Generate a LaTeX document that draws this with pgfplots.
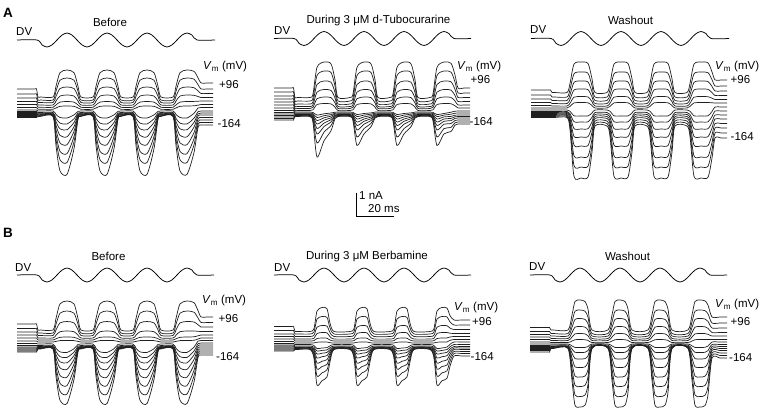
\documentclass[border=0pt]{standalone}
\usepackage{fontspec}
\setmainfont{Liberation Sans}
\usepackage{pgfplots}
\usepackage{pgfplotstable}
\pgfplotsset{compat=1.18}

% ---------- A: Before ----------
\pgfplotstableread{
t y1 y2 y3 y4 y5 y6 y7 y8 y9 y10 y11 y12 y13 y14
17 89 94 98 101.5 104.5 107.5 110 111.5 112.5 113.5 114.5 115.5 116.5 117.5
34.5 89 94 98 101.5 104.5 107.5 110 111.5 112.5 113.5 114.5 115.5 116.5 117.5
36.5 89 94 98 101.5 104.5 107.5 110 111.5 112.5 113.5 114.5 115.5 116.5 117.5
38 97 100 102.5 105 107.3 109.3 111 112.5 113.3 114 114.6 115.2 115.8 116.4
40.5 97 100 102.5 105 107.3 109.3 111 112.5 113.3 114 114.6 115.2 115.8 116.4
53 97 100 102.5 105 107.3 109.3 111 112.5 113.3 114 114.6 115.2 115.8 116.4
56 86.2 91.2 96.3 101 105 108 114.5 118.3 121.7 125.5 129.8 134.6 139.4 145.7
60 72.7 80.2 88.5 96 102.1 106.3 117.5 123.2 128.8 135.4 142.9 151.3 159.7 170.9
67 70 78 87 95 101.5 106 118 123.9 129.8 136.8 144.7 153.6 162.5 174.4
74 72.7 80.2 88.5 96 102.1 106.3 114.9 118.8 122.5 126.7 131.3 136.5 141.8 148.6
78 86.2 91.2 96.3 101 105 108 111.4 113.1 114.1 115.2 116.1 117.1 118.2 119.3
81 97 100 102.5 105 107.3 109.3 111 112.5 113.3 114 114.6 115.2 115.8 116.4
93 97 100 102.5 105 107.3 109.3 111 112.5 113.3 114 114.6 115.2 115.8 116.4
96 86.2 91.2 96.3 101 105 108 114.5 118.3 121.7 125.5 129.8 134.6 139.4 145.7
100 72.7 80.2 88.5 96 102.1 106.3 117.5 123.2 128.8 135.4 142.9 151.3 159.7 170.9
107 70 78 87 95 101.5 106 118 123.9 129.8 136.8 144.7 153.6 162.5 174.4
114 72.7 80.2 88.5 96 102.1 106.3 114.9 118.8 122.5 126.7 131.3 136.5 141.8 148.6
118 86.2 91.2 96.3 101 105 108 111.4 113.1 114.1 115.2 116.1 117.1 118.2 119.3
121 97 100 102.5 105 107.3 109.3 111 112.5 113.3 114 114.6 115.2 115.8 116.4
133 97 100 102.5 105 107.3 109.3 111 112.5 113.3 114 114.6 115.2 115.8 116.4
136 86.2 91.2 96.3 101 105 108 114.5 118.3 121.7 125.5 129.8 134.6 139.4 145.7
140 72.7 80.2 88.5 96 102.1 106.3 117.5 123.2 128.8 135.4 142.9 151.3 159.7 170.9
147 70 78 87 95 101.5 106 118 123.9 129.8 136.8 144.7 153.6 162.5 174.4
154 72.7 80.2 88.5 96 102.1 106.3 114.9 118.8 122.5 126.7 131.3 136.5 141.8 148.6
158 86.2 91.2 96.3 101 105 108 111.4 113.1 114.1 115.2 116.1 117.1 118.2 119.3
161 97 100 102.5 105 107.3 109.3 111 112.5 113.3 114 114.6 115.2 115.8 116.4
173 97 100 102.5 105 107.3 109.3 111 112.5 113.3 114 114.6 115.2 115.8 116.4
176 86.2 91.2 96.3 101 105 108 114.5 118.3 121.7 125.5 129.8 134.6 139.4 145.7
180 72.7 80.2 88.5 96 102.1 106.3 117.5 123.2 128.8 135.4 142.9 151.3 159.7 170.9
187 70 78 87 95 101.5 106 118 123.9 129.8 136.8 144.7 153.6 162.5 174.4
194 71.3 79.1 87.7 95.3 101.4 105.8 113.3 118.2 122.4 127.1 132.6 138.7 144.8 152.5
198 77.8 84.6 90.9 96.5 101.2 105.2 108 111.7 113.9 116.1 118.9 121.7 124.5 127.5
201 83 89 93.5 97.5 101 104.5 107.5 111 113 115 117.5 120 122.5 125
207 83 89 93.5 97.5 101 104.5 107.5 111 113 115 117.5 120 122.5 125
213 83 89 93.5 97.5 101 104.5 107.5 111 113 115 117.5 120 122.5 125
}\tAa

% ---------- A: During d-Tubocurarine ----------
\pgfplotstableread{
t y1 y2 y3 y4 y5 y6 y7 y8 y9 y10 y11 y12 y13 y14
274 88 92 96 99 102 105 108 110.5 112.5 114 115.5 117 118.5 120
291.5 88 92 96 99 102 105 108 110.5 112.5 114 115.5 117 118.5 120
293.5 88 92 96 99 102 105 108 110.5 112.5 114 115.5 117 118.5 120
295 97.5 101 104 106.5 108.5 110.5 112 113 113.8 114.5 115 115.5 116 116.5
297.5 97.5 101 104 106.5 108.5 110.5 112 113 113.8 114.5 115 115.5 116 116.5
310 97.5 101 104 106.5 108.5 110.5 112 113 113.8 114.5 115 115.5 116 116.5
313 94 98 101.7 104.8 107.4 109.8 112.5 113.7 114.8 115.9 117 118.3 120 122.6
317 67.3 75.5 84.5 92.1 98.7 104.5 115 117.5 120.5 124 128.5 134 143 157
324 62 71 81 89.5 97 103.5 113.8 115.7 117.8 120.2 123.1 126.6 132.2 140.8
331 63.8 72.5 82.2 90.4 97.6 103.9 113 114.6 116.1 117.8 119.7 122 125.5 130.7
335 79.8 86 92.5 98 102.8 107 112.2 113.2 114.1 115 115.7 116.4 117.4 118.5
338 97.5 101 104 106.5 108.5 110.5 112 113 113.8 114.5 115 115.5 116 116.5
350 97.5 101 104 106.5 108.5 110.5 112 113 113.8 114.5 115 115.5 116 116.5
353 94 98 101.7 104.8 107.4 109.8 112.4 113.5 114.6 115.6 116.6 117.7 119.2 120.9
357 67.3 75.5 84.5 92.1 98.7 104.5 114.5 116.5 119 122 125.5 130 137 145.5
364 62 71 81 89.5 97 103.5 113.5 115.1 116.9 119 121.3 124.2 128.6 133.9
371 63.8 72.5 82.2 90.4 97.6 103.9 112.9 114.2 115.6 117.1 118.7 120.6 123.4 126.7
375 79.8 86 92.5 98 102.8 107 112.1 113.2 114.1 114.9 115.5 116.2 117.1 118
378 97.5 101 104 106.5 108.5 110.5 112 113 113.8 114.5 115 115.5 116 116.5
390 97.5 101 104 106.5 108.5 110.5 112 113 113.8 114.5 115 115.5 116 116.5
393 94 98 101.7 104.8 107.4 109.8 112.4 113.5 114.6 115.6 116.6 117.7 119.2 120.9
397 67.3 75.5 84.5 92.1 98.7 104.5 114.5 116.5 119 122 125.5 130 137 145.5
404 62 71 81 89.5 97 103.5 113.5 115.1 116.9 119 121.3 124.2 128.6 133.9
411 63.8 72.5 82.2 90.4 97.6 103.9 112.9 114.2 115.6 117.1 118.7 120.6 123.4 126.7
415 79.8 86 92.5 98 102.8 107 112.1 113.2 114.1 114.9 115.5 116.2 117.1 118
418 97.5 101 104 106.5 108.5 110.5 112 113 113.8 114.5 115 115.5 116 116.5
430 97.5 101 104 106.5 108.5 110.5 112 113 113.8 114.5 115 115.5 116 116.5
433 94 98 101.7 104.8 107.4 109.8 112.4 113.5 114.6 115.6 116.6 117.7 119.2 120.9
437 67.3 75.5 84.5 92.1 98.7 104.5 114.5 116.5 119 122 125.5 130 137 145.5
444 62 71 81 89.5 97 103.5 113.5 115.1 116.9 119 121.3 124.2 128.6 133.9
451 63.3 72.1 81.8 90.1 97.4 103.7 112.2 114.2 116.4 118.4 120.6 123.5 127.3 131.5
455 75 82 89.3 95.5 101 105.8 111.2 113.2 115.2 116.8 118.4 120.5 122.8 125.1
458 88 93 97.5 101.5 105 108 111 113 115 116.5 118 120 122 124
464 88 93 97.5 101.5 105 108 111 113 115 116.5 118 120 122 124
470 88 93 97.5 101.5 105 108 111 113 115 116.5 118 120 122 124
}\tAb

% ---------- A: Washout ----------
\pgfplotstableread{
t y1 y2 y3 y4 y5 y6 y7 y8 y9 y10 y11 y12 y13 y14
531 90 95 99 102.5 105.5 108 110 111.5 112.5 113.5 114.5 115.5 116.5 117.5
548.5 90 95 99 102.5 105.5 108 110 111.5 112.5 113.5 114.5 115.5 116.5 117.5
550.5 90 95 99 102.5 105.5 108 110 111.5 112.5 113.5 114.5 115.5 116.5 117.5
552 92.5 97 100.5 103.5 106 108 110 111.5 112.5 113.5 114.5 115.5 116.5 117.5
554.5 92.5 97 100.5 103.5 106 108 110 111.5 112.5 113.5 114.5 115.5 116.5 117.5
567 92.5 97 100.5 103.5 106 108 110 111.5 112.5 113.5 114.5 115.5 116.5 117.5
570 83.4 89.5 94.7 99.2 103.2 106.4 111.2 113.6 115.8 118.2 120.8 123.8 126.6 129.6
574 64.1 73.8 82.4 90 97.2 102.9 115.8 121.7 128.6 136.4 145.2 155.9 165.7 176.4
581 62 72 81 89 96.5 102.5 116 122 129 137 146 157 167 178
588 63.5 73.3 82 89.7 97 102.8 115.9 121.8 128.7 136.6 145.5 156.3 166.1 177
592 78.8 85.8 91.7 97 101.7 105.5 113 117.3 121.8 126.8 132.3 139 145.3 152
595 92.5 97 100.5 103.5 106 108 110 112.5 114.5 116.5 118.5 121 123.5 126
607 92.5 97 100.5 103.5 106 108 110 112.5 114.5 116.5 118.5 121 123.5 126
610 83.4 89.5 94.7 99.2 103.2 106.4 111.2 114.4 117.4 120.6 124 128.2 132.2 136.4
614 64.1 73.8 82.4 90 97.2 102.9 115.8 121.7 128.6 136.4 145.2 155.9 165.7 176.4
621 62 72 81 89 96.5 102.5 116 122 129 137 146 157 167 178
628 63.5 73.3 82 89.7 97 102.8 115.9 121.8 128.7 136.6 145.5 156.3 166.1 177
632 78.8 85.8 91.7 97 101.7 105.5 113 117.3 121.8 126.8 132.3 139 145.3 152
635 92.5 97 100.5 103.5 106 108 110 112.5 114.5 116.5 118.5 121 123.5 126
647 92.5 97 100.5 103.5 106 108 110 112.5 114.5 116.5 118.5 121 123.5 126
650 83.4 89.5 94.7 99.2 103.2 106.4 111.2 114.4 117.4 120.6 124 128.2 132.2 136.4
654 64.1 73.8 82.4 90 97.2 102.9 115.8 121.7 128.6 136.4 145.2 155.9 165.7 176.4
661 62 72 81 89 96.5 102.5 116 122 129 137 146 157 167 178
668 63.5 73.3 82 89.7 97 102.8 115.9 121.8 128.7 136.6 145.5 156.3 166.1 177
672 78.8 85.8 91.7 97 101.7 105.5 113 117.3 121.8 126.8 132.3 139 145.3 152
675 92.5 97 100.5 103.5 106 108 110 112.5 114.5 116.5 118.5 121 123.5 126
687 92.5 97 100.5 103.5 106 108 110 112.5 114.5 116.5 118.5 121 123.5 126
690 83.4 89.5 94.7 99.2 103.2 106.4 111.2 114.4 117.4 120.6 124 128.2 132.2 136.4
694 64.1 73.8 82.4 90 97.2 102.9 115.8 121.7 128.6 136.4 145.2 155.9 165.7 176.4
701 62 72 81 89 96.5 102.5 116 122 129 137 146 157 167 178
708 62.9 72.7 81.5 89.3 96.7 102.5 115.8 121.8 128.7 136.6 145.6 156.4 166.3 177.2
712 71.9 79.7 86.5 92.6 98.2 102.8 111.5 116.5 122 128 134.8 142.5 150 158
715 80 86 91 95.5 99.5 103 107 111 115 119 123.5 128 133 138
721 80 86 91 95.5 99.5 103 107 111 115 119 123.5 128 133 138
727 80 86 91 95.5 99.5 103 107 111 115 119 123.5 128 133 138
}\tAc

% ---------- B: Before ----------
\pgfplotstableread{
t y1 y2 y3 y4 y5 y6 y7 y8 y9 y10 y11 y12 y13 y14
17 324 328.5 332 335 338 341 343.5 345.5 347 348 349 350 351 352
34.5 324 328.5 332 335 338 341 343.5 345.5 347 348 349 350 351 352
36.5 324 328.5 332 335 338 341 343.5 345.5 347 348 349 350 351 352
38 330 333 335.5 338 340 342 344 345.5 346.5 347 347.5 348 348.5 349
40.5 330 333 335.5 338 340 342 344 345.5 346.5 347 347.5 348 348.5 349
53 330 333 335.5 338 340 342 344 345.5 346.5 347 347.5 348 348.5 349
56 318.4 324.2 329.9 335.2 338.8 341.4 348.3 351.5 354.8 358.3 362.5 367 371.5 376.5
60 303.9 313.2 322.9 331.7 337.3 340.6 351.9 356.7 361.8 367.9 375.4 383.3 391.3 400.2
67 301 311 321.5 331 337 340.5 352.4 357.4 362.8 369.3 377.2 385.6 394 403.5
74 303.9 313.2 322.9 331.7 337.3 340.6 348.7 352.1 355.6 359.4 364 368.9 373.8 379.3
78 318.4 324.2 329.9 335.2 338.8 341.4 344.4 346.1 347.3 348.1 349 349.9 350.8 351.8
81 330 333 335.5 338 340 342 344 345.5 346.5 347 347.5 348 348.5 349
93 330 333 335.5 338 340 342 344 345.5 346.5 347 347.5 348 348.5 349
96 318.4 324.2 329.9 335.2 338.8 341.4 348.3 351.5 354.8 358.3 362.5 367 371.5 376.5
100 303.9 313.2 322.9 331.7 337.3 340.6 351.9 356.7 361.8 367.9 375.4 383.3 391.3 400.2
107 301 311 321.5 331 337 340.5 352.4 357.4 362.8 369.3 377.2 385.6 394 403.5
114 303.9 313.2 322.9 331.7 337.3 340.6 348.7 352.1 355.6 359.4 364 368.9 373.8 379.3
118 318.4 324.2 329.9 335.2 338.8 341.4 344.4 346.1 347.3 348.1 349 349.9 350.8 351.8
121 330 333 335.5 338 340 342 344 345.5 346.5 347 347.5 348 348.5 349
133 330 333 335.5 338 340 342 344 345.5 346.5 347 347.5 348 348.5 349
136 318.4 324.2 329.9 335.2 338.8 341.4 348.3 351.5 354.8 358.3 362.5 367 371.5 376.5
140 303.9 313.2 322.9 331.7 337.3 340.6 351.9 356.7 361.8 367.9 375.4 383.3 391.3 400.2
147 301 311 321.5 331 337 340.5 352.4 357.4 362.8 369.3 377.2 385.6 394 403.5
154 303.9 313.2 322.9 331.7 337.3 340.6 348.7 352.1 355.6 359.4 364 368.9 373.8 379.3
158 318.4 324.2 329.9 335.2 338.8 341.4 344.4 346.1 347.3 348.1 349 349.9 350.8 351.8
161 330 333 335.5 338 340 342 344 345.5 346.5 347 347.5 348 348.5 349
173 330 333 335.5 338 340 342 344 345.5 346.5 347 347.5 348 348.5 349
176 318.4 324.2 329.9 335.2 338.8 341.4 348.3 351.5 354.8 358.3 362.5 367 371.5 376.5
180 303.9 313.2 322.9 331.7 337.3 340.6 351.9 356.7 361.8 367.9 375.4 383.3 391.3 400.2
187 301 311 321.5 331 337 340.5 352.4 357.4 362.8 369.3 377.2 385.6 394 403.5
194 302.6 312.2 322 331 336.8 340.3 347.1 351 354.9 359.4 364.7 370.3 375.8 382
198 310.6 317.9 324.8 331.3 335.8 339 341.1 343.7 345.9 348.1 350.4 352.8 355.1 357.5
201 317 322.5 327 331.5 335 338 340.5 343 345 347 349 351 353 355
207 317 322.5 327 331.5 335 338 340.5 343 345 347 349 351 353 355
213 317 322.5 327 331.5 335 338 340.5 343 345 347 349 351 353 355
}\tBa

% ---------- B: During Berbamine ----------
\pgfplotstableread{
t y1 y2 y3 y4 y5 y6 y7 y8 y9 y10 y11 y12 y13 y14
274 326.5 330.5 334 336.5 339 341.5 343.5 345 346 347 348 349 350 351
291.5 326.5 330.5 334 336.5 339 341.5 343.5 345 346 347 348 349 350 351
293.5 326.5 330.5 334 336.5 339 341.5 343.5 345 346 347 348 349 350 351
295 331.5 334 336.5 339 341 343 344.5 346 347 347.5 348 348.5 349 349.5
297.5 331.5 334 336.5 339 341 343 344.5 346 347 347.5 348 348.5 349 349.5
310 331.5 334 336.5 339 341 343 344.5 346 347 347.5 348 348.5 349 349.5
314 328.6 331.9 335.2 338.2 340.6 342.9 345.5 347.3 348.8 350.1 351.8 353.6 355.8 358.4
317 311.1 319.1 327.2 333.5 338.5 342.2 348.5 351 354 358 363 369 376 385
322 307.5 316.5 325.5 332.5 338 342 348 350.4 353.2 356.7 361.2 366.5 372.8 380.7
327 308.7 317.4 326.1 332.8 338.2 342 347.6 349.9 352.4 355.6 359.6 364.3 369.8 376.8
330 323.1 327.9 332.7 336.7 340 342.7 345.9 347.8 349.5 351.2 353.3 355.7 358.5 361.9
334 331.5 334 336.5 339 341 343 344.5 346 347 347.5 348 348.5 349 349.5
350 331.5 334 336.5 339 341 343 344.5 346 347 347.5 348 348.5 349 349.5
354 328.6 331.9 335.2 338.2 340.6 342.9 345.5 347.3 348.8 350.1 351.8 353.6 355.8 358.4
357 311.1 319.1 327.2 333.5 338.5 342.2 348.5 351 354 358 363 369 376 385
362 307.5 316.5 325.5 332.5 338 342 348 350.4 353.2 356.7 361.2 366.5 372.8 380.7
367 308.7 317.4 326.1 332.8 338.2 342 347.6 349.9 352.4 355.6 359.6 364.3 369.8 376.8
370 323.1 327.9 332.7 336.7 340 342.7 345.9 347.8 349.5 351.2 353.3 355.7 358.5 361.9
374 331.5 334 336.5 339 341 343 344.5 346 347 347.5 348 348.5 349 349.5
390 331.5 334 336.5 339 341 343 344.5 346 347 347.5 348 348.5 349 349.5
394 328.6 331.9 335.2 338.2 340.6 342.9 345.5 347.3 348.8 350.1 351.8 353.6 355.8 358.4
397 311.1 319.1 327.2 333.5 338.5 342.2 348.5 351 354 358 363 369 376 385
402 307.5 316.5 325.5 332.5 338 342 348 350.4 353.2 356.7 361.2 366.5 372.8 380.7
407 308.7 317.4 326.1 332.8 338.2 342 347.6 349.9 352.4 355.6 359.6 364.3 369.8 376.8
410 323.1 327.9 332.7 336.7 340 342.7 345.9 347.8 349.5 351.2 353.3 355.7 358.5 361.9
414 331.5 334 336.5 339 341 343 344.5 346 347 347.5 348 348.5 349 349.5
430 331.5 334 336.5 339 341 343 344.5 346 347 347.5 348 348.5 349 349.5
434 328.6 331.9 335.2 338.2 340.6 342.9 345.5 347.3 348.8 350.1 351.8 353.6 355.8 358.4
437 311.1 319.1 327.2 333.5 338.5 342.2 348.5 351 354 358 363 369 376 385
442 307.5 316.5 325.5 332.5 338 342 348 350.4 353.2 356.7 361.2 366.5 372.8 380.7
447 308.1 316.9 325.7 332.5 337.9 341.9 347 349.5 352.3 355.7 359.9 365 370.8 378.3
450 315.6 322 328.1 333.2 337 340.4 344.3 346.8 349.1 351.5 354.2 357.6 361.4 366.2
454 320 325 329.5 333.5 336.5 339.5 342 344.5 346.5 348 349.5 351.5 353.5 356
462 320 325 329.5 333.5 336.5 339.5 342 344.5 346.5 348 349.5 351.5 353.5 356
470 320 325 329.5 333.5 336.5 339.5 342 344.5 346.5 348 349.5 351.5 353.5 356
}\tBb

% ---------- B: Washout ----------
\pgfplotstableread{
t y1 y2 y3 y4 y5 y6 y7 y8 y9 y10 y11 y12 y13 y14
530 327.5 331.5 334.5 337 339.5 342 344 345.5 346.5 347.5 348.5 349.5 350.5 352
547.5 327.5 331.5 334.5 337 339.5 342 344 345.5 346.5 347.5 348.5 349.5 350.5 352
549.5 327.5 331.5 334.5 337 339.5 342 344 345.5 346.5 347.5 348.5 349.5 350.5 352
551 330 333.5 336 338.5 340.5 342.5 344 345 346 346.5 347 347.5 348 348.5
553.5 330 333.5 336 338.5 340.5 342.5 344 345 346 346.5 347 347.5 348 348.5
568 330 333.5 336 338.5 340.5 342.5 344 345 346 346.5 347 347.5 348 348.5
572 315 321.8 327.3 332.5 337 341 345.9 349.1 353.2 358.1 363.5 369 374.7 380.7
575 301.5 311.2 319.4 327.1 333.9 339.7 347.4 352.3 358.6 366.9 376.1 385.3 395 405.2
580 300 310 318.5 326.5 333.5 339.5 347.5 352.5 359 367.5 377 386.5 396.5 407
585 301.5 311.2 319.4 327.1 333.9 339.7 347.4 352.3 358.6 366.9 376.1 385.3 395 405.2
588 309 317.1 323.8 330.1 335.6 340.4 346.6 350.6 355.8 362.3 369.5 376.8 384.4 392.4
592 330 333.5 336 338.5 340.5 342.5 344 345 346 346.5 347 347.5 348 348.5
608 330 333.5 336 338.5 340.5 342.5 344 345 346 346.5 347 347.5 348 348.5
612 315 321.8 327.3 332.5 337 341 345.9 349.1 353.2 358.1 363.5 369 374.7 380.7
615 301.5 311.2 319.4 327.1 333.9 339.7 347.4 352.3 358.6 366.9 376.1 385.3 395 405.2
620 300 310 318.5 326.5 333.5 339.5 347.5 352.5 359 367.5 377 386.5 396.5 407
625 301.5 311.2 319.4 327.1 333.9 339.7 347.4 352.3 358.6 366.9 376.1 385.3 395 405.2
628 309 317.1 323.8 330.1 335.6 340.4 346.6 350.6 355.8 362.3 369.5 376.8 384.4 392.4
632 330 333.5 336 338.5 340.5 342.5 344 345 346 346.5 347 347.5 348 348.5
648 330 333.5 336 338.5 340.5 342.5 344 345 346 346.5 347 347.5 348 348.5
652 315 321.8 327.3 332.5 337 341 345.9 349.1 353.2 358.1 363.5 369 374.7 380.7
655 301.5 311.2 319.4 327.1 333.9 339.7 347.4 352.3 358.6 366.9 376.1 385.3 395 405.2
660 300 310 318.5 326.5 333.5 339.5 347.5 352.5 359 367.5 377 386.5 396.5 407
665 301.5 311.2 319.4 327.1 333.9 339.7 347.4 352.3 358.6 366.9 376.1 385.3 395 405.2
668 309 317.1 323.8 330.1 335.6 340.4 346.6 350.6 355.8 362.3 369.5 376.8 384.4 392.4
672 330 333.5 336 338.5 340.5 342.5 344 345 346 346.5 347 347.5 348 348.5
688 330 333.5 336 338.5 340.5 342.5 344 345 346 346.5 347 347.5 348 348.5
692 315 321.8 327.3 332.5 337 341 345.9 349.1 353.2 358.1 363.5 369 374.7 380.7
695 301.5 311.2 319.4 327.1 333.9 339.7 347.4 352.3 358.6 366.9 376.1 385.3 395 405.2
700 300 310 318.5 326.5 333.5 339.5 347.5 352.5 359 367.5 377 386.5 396.5 407
705 300.9 310.7 319 326.8 333.6 339.5 347.3 352.3 358.6 366.9 376.2 385.5 395.3 405.5
708 305.1 313.9 321.4 328.3 334.3 339.5 346.1 350.5 355.9 362.8 370.4 378.1 386.3 394.8
712 317 323 328 332.5 336 339.5 342 344.5 346.5 348.5 350.5 353 355.5 358
720 317 323 328 332.5 336 339.5 342 344.5 346.5 348.5 350.5 353 355.5 358
727 317 323 328 332.5 336 339.5 342 344.5 346.5 348.5 350.5 353 355.5 358
}\tBc

\newcommand\fs{\fontsize{11.5}{13.5}\selectfont}

\begin{document}
\begin{tikzpicture}
\path[use as bounding box] (0,0) rectangle (762pt,412pt);
\begin{axis}[
  at={(0pt,0pt)}, anchor=south west,
  scale only axis, width=762pt, height=412pt,
  xmin=0, xmax=762, ymin=0, ymax=412, y dir=reverse,
  hide axis, clip=false,
  trace/.style={black!88, line width=0.7pt, smooth, tension=0.45, mark=none},
  dv/.style={black, line width=0.75pt, smooth, mark=none},
]
% current traces
\pgfplotsinvokeforeach{1,...,14}{
  \addplot[trace] table[x=t, y=y#1] {\tAa};
  \addplot[trace] table[x=t, y=y#1] {\tAb};
  \addplot[trace] table[x=t, y=y#1] {\tAc};
  \addplot[trace] table[x=t, y=y#1] {\tBa};
  \addplot[trace] table[x=t, y=y#1] {\tBb};
  \addplot[trace] table[x=t, y=y#1] {\tBc};
}
% DV command waveforms
\addplot[dv] coordinates {(17,40) (37,40) (42,44.9) (47,47) (52,44.9) (57,40) (62,35.1) (67,33) (72,35.1) (77,40) (82,44.9) (87,47) (92,44.9) (97,40) (102,35.1) (107,33) (112,35.1) (117,40) (122,44.9) (127,47) (132,44.9) (137,40) (142,35.1) (147,33) (152,35.1) (157,40) (162,44.9) (167,47) (172,44.9) (177,40) (182,35.1) (187,33) (192,35.1) (197,40) (215,40)};
\addplot[dv] coordinates {(274,38.5) (294,38.5) (299,43.4) (304,45.5) (309,43.4) (314,38.5) (319,33.6) (324,31.5) (329,33.6) (334,38.5) (339,43.4) (344,45.5) (349,43.4) (354,38.5) (359,33.6) (364,31.5) (369,33.6) (374,38.5) (379,43.4) (384,45.5) (389,43.4) (394,38.5) (399,33.6) (404,31.5) (409,33.6) (414,38.5) (419,43.4) (424,45.5) (429,43.4) (434,38.5) (439,33.6) (444,31.5) (449,33.6) (454,38.5) (471,38.5)};
\addplot[dv] coordinates {(531,38.5) (551,38.5) (556,43.4) (561,45.5) (566,43.4) (571,38.5) (576,33.6) (581,31.5) (586,33.6) (591,38.5) (596,43.4) (601,45.5) (606,43.4) (611,38.5) (616,33.6) (621,31.5) (626,33.6) (631,38.5) (636,43.4) (641,45.5) (646,43.4) (651,38.5) (656,33.6) (661,31.5) (666,33.6) (671,38.5) (676,43.4) (681,45.5) (686,43.4) (691,38.5) (696,33.6) (701,31.5) (706,33.6) (711,38.5) (729,38.5)};
\addplot[dv] coordinates {(17,275) (37,275) (42,279.9) (47,282) (52,279.9) (57,275) (62,270.1) (67,268) (72,270.1) (77,275) (82,279.9) (87,282) (92,279.9) (97,275) (102,270.1) (107,268) (112,270.1) (117,275) (122,279.9) (127,282) (132,279.9) (137,275) (142,270.1) (147,268) (152,270.1) (157,275) (162,279.9) (167,282) (172,279.9) (177,275) (182,270.1) (187,268) (192,270.1) (197,275) (214,275)};
\addplot[dv] coordinates {(274,275) (294,275) (299,279.9) (304,282) (309,279.9) (314,275) (319,270.1) (324,268) (329,270.1) (334,275) (339,279.9) (344,282) (349,279.9) (354,275) (359,270.1) (364,268) (369,270.1) (374,275) (379,279.9) (384,282) (389,279.9) (394,275) (399,270.1) (404,268) (409,270.1) (414,275) (419,279.9) (424,282) (429,279.9) (434,275) (439,270.1) (444,268) (449,270.1) (454,275) (471,275)};
\addplot[dv] coordinates {(530,275) (550,275) (555,279.9) (560,282) (565,279.9) (570,275) (575,270.1) (580,268) (585,270.1) (590,275) (595,279.9) (600,282) (605,279.9) (610,275) (615,270.1) (620,268) (625,270.1) (630,275) (635,279.9) (640,282) (645,279.9) (650,275) (655,270.1) (660,268) (665,270.1) (670,275) (675,279.9) (680,282) (685,279.9) (690,275) (695,270.1) (700,268) (705,270.1) (710,275) (727,275)};

% panel letters
\node[font=\bfseries\fontsize{13.5}{15}\selectfont, inner sep=0] at (axis cs:8,12.5) {A};
\node[font=\bfseries\fontsize{13.5}{15}\selectfont, inner sep=0] at (axis cs:8,233) {B};
% titles
\node[font=\fs, inner sep=0] at (axis cs:110,22.5) {Before};
\node[font=\fs, inner sep=0] at (axis cs:378.5,21) {During 3 μM d-Tubocurarine};
\node[font=\fs, inner sep=0] at (axis cs:630.5,20.5) {Washout};
\node[font=\fs, inner sep=0] at (axis cs:108.5,256.5) {Before};
\node[font=\fs, inner sep=0] at (axis cs:367,256.5) {During 3 μM Berbamine};
\node[font=\fs, inner sep=0] at (axis cs:627.5,256.5) {Washout};
% DV labels
\node[font=\fs, inner sep=0, anchor=west] at (axis cs:16,31.5) {DV};
\node[font=\fs, inner sep=0, anchor=west] at (axis cs:274,30.5) {DV};
\node[font=\fs, inner sep=0, anchor=west] at (axis cs:530,29.5) {DV};
\node[font=\fs, inner sep=0, anchor=west] at (axis cs:15,268) {DV};
\node[font=\fs, inner sep=0, anchor=west] at (axis cs:274,268) {DV};
\node[font=\fs, inner sep=0, anchor=west] at (axis cs:529,267) {DV};
% Vm labels
\node[font=\fs, inner sep=0, anchor=west] at (axis cs:203,67) {\textit{V}\textsubscript{m} (mV)};
\node[font=\fs, inner sep=0, anchor=west] at (axis cs:457,67) {\textit{V}\textsubscript{m} (mV)};
\node[font=\fs, inner sep=0, anchor=west] at (axis cs:715,67) {\textit{V}\textsubscript{m} (mV)};
\node[font=\fs, inner sep=0, anchor=west] at (axis cs:202,301) {\textit{V}\textsubscript{m} (mV)};
\node[font=\fs, inner sep=0, anchor=west] at (axis cs:454,307.5) {\textit{V}\textsubscript{m} (mV)};
\node[font=\fs, inner sep=0, anchor=west] at (axis cs:715,305) {\textit{V}\textsubscript{m} (mV)};
% +96 / -164
\node[font=\fs, inner sep=0, anchor=west] at (axis cs:219,84.5) {+96};
\node[font=\fs, inner sep=0, anchor=west] at (axis cs:470.5,79.5) {+96};
\node[font=\fs, inner sep=0, anchor=west] at (axis cs:730.5,79.5) {+96};
\node[font=\fs, inner sep=0, anchor=west] at (axis cs:218.5,318.5) {+96};
\node[font=\fs, inner sep=0, anchor=west] at (axis cs:472,321.7) {+96};
\node[font=\fs, inner sep=0, anchor=west] at (axis cs:730.5,321.7) {+96};
\node[font=\fs, inner sep=0, anchor=west] at (axis cs:217.5,123.3) {-164};
\node[font=\fs, inner sep=0, anchor=west] at (axis cs:469.5,121.7) {-164};
\node[font=\fs, inner sep=0, anchor=west] at (axis cs:730.5,136.7) {-164};
\node[font=\fs, inner sep=0, anchor=west] at (axis cs:216,356.7) {-164};
\node[font=\fs, inner sep=0, anchor=west] at (axis cs:470.5,356.7) {-164};
\node[font=\fs, inner sep=0, anchor=west] at (axis cs:729,357.7) {-164};
% scale bar
\draw[black, line width=1pt] (axis cs:356.5,192.5) -- (axis cs:356.5,216) -- (axis cs:393.5,216);
\node[font=\fs, inner sep=0, anchor=west] at (axis cs:359,195.5) {1 nA};
\node[font=\fs, inner sep=0, anchor=west] at (axis cs:368,209) {20 ms};
\end{axis}
\end{tikzpicture}
\end{document}
